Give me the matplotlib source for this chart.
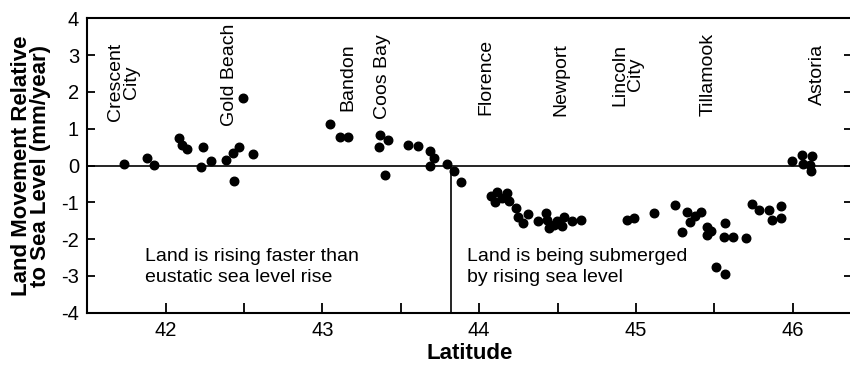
import matplotlib
matplotlib.use("Agg")
import matplotlib.pyplot as plt
from matplotlib.ticker import MultipleLocator

plt.rcParams["font.family"] = ["Liberation Sans", "DejaVu Sans"]
plt.rcParams["axes.unicode_minus"] = False

# tide-gauge / leveling points
latitude = [
    41.733, 41.883, 41.923, 42.083, 42.107, 42.139, 42.235, 42.228, 42.288,
    42.382, 42.431, 42.469, 42.491, 42.435, 42.559,
    43.049, 43.113, 43.160,
    43.369, 43.358, 43.416, 43.401,
    43.546, 43.610, 43.683, 43.710, 43.685, 43.796, 43.838, 43.887,
    44.073, 44.099, 44.116, 44.148, 44.180, 44.190, 44.233, 44.248, 44.282,
    44.312, 44.372, 44.425, 44.431, 44.446, 44.478, 44.495, 44.525, 44.538,
    44.591, 44.649,
    44.943, 44.986, 45.118,
    45.246, 45.327, 45.412, 45.378, 45.342, 45.293, 45.455, 45.481, 45.455,
    45.566, 45.562, 45.619, 45.700, 45.512, 45.566,
    45.741, 45.784, 45.847, 45.924, 45.869, 45.924,
    45.997, 46.061, 46.120, 46.067, 46.110, 46.116,
]
movement = [
    0.05, 0.21, 0.01, 0.74, 0.57, 0.44, 0.51, -0.04, 0.12,
    0.16, 0.34, 0.51, 1.84, -0.41, 0.32,
    1.12, 0.78, 0.78,
    0.84, 0.51, 0.68, -0.25,
    0.57, 0.53, 0.39, 0.21, -0.02, 0.05, -0.16, -0.46,
    -0.84, -1.00, -0.73, -0.88, -0.76, -0.97, -1.15, -1.41, -1.56,
    -1.32, -1.52, -1.29, -1.47, -1.70, -1.61, -1.52, -1.65, -1.41,
    -1.50, -1.47,
    -1.47, -1.44, -1.29,
    -1.08, -1.26, -1.25, -1.38, -1.54, -1.81, -1.68, -1.77, -1.88,
    -1.55, -1.93, -1.93, -1.97, -2.77, -2.95,
    -1.05, -1.20, -1.20, -1.09, -1.47, -1.44,
    0.12, 0.28, 0.25, 0.03, 0.01, -0.16,
]

towns = ["Crescent\nCity", "Gold Beach", "Bandon", "Coos Bay", "Florence",
         "Newport", "Lincoln\nCity", "Tillamook", "Astoria"]
town_lat = [41.73, 42.41, 43.16, 43.38, 44.04, 44.52, 44.95, 45.46, 46.16]
town_top = [3.34, 3.85, 3.31, 3.58, 3.44, 3.34, 3.31, 3.60, 3.30]

divide_lat = 43.817

fig = plt.figure(figsize=(8.5, 3.67), dpi=100)
ax = fig.add_axes([0.1027, 0.148, 0.9, 0.802])

ax.axhline(0, color="black", lw=1.2, zorder=1)
ax.plot([divide_lat, divide_lat], [-4, 0], color="black", lw=1.2, zorder=1)
ax.scatter(latitude, movement, s=38, color="black", zorder=3)

for name, x, y in zip(towns, town_lat, town_top):
    ax.text(x, y, name, rotation=90, ha="center", va="top", fontsize=14,
            multialignment="center", linespacing=0.9)

ax.text(41.87, -2.25, "Land is rising faster than\neustatic sea level rise",
        ha="left", va="top", fontsize=14, linespacing=1.3)
ax.text(43.925, -2.25, "Land is being submerged\nby rising sea level",
        ha="left", va="top", fontsize=14, linespacing=1.3)

ax.set_xlim(41.5, 46.38)
ax.set_ylim(-4, 4)
ax.xaxis.set_major_locator(MultipleLocator(1))
ax.xaxis.set_minor_locator(MultipleLocator(0.5))
ax.yaxis.set_major_locator(MultipleLocator(1))
ax.tick_params(axis="both", which="both", direction="in", width=1.3,
               labelsize=14.5)
ax.tick_params(axis="x", which="both", length=7, pad=6)
ax.tick_params(axis="y", length=6, pad=6, right=True)
for s in ax.spines.values():
    s.set_linewidth(1.5)
ax.spines["right"].set_visible(False)

ax.set_xlabel("Latitude", fontsize=16, fontweight="bold", labelpad=2)
ax.set_ylabel("Land Movement Relative\nto Sea Level (mm/year)", fontsize=16,
              fontweight="bold", linespacing=0.9, labelpad=7)

fig.savefig("out.png", dpi=100)
plt.close(fig)
